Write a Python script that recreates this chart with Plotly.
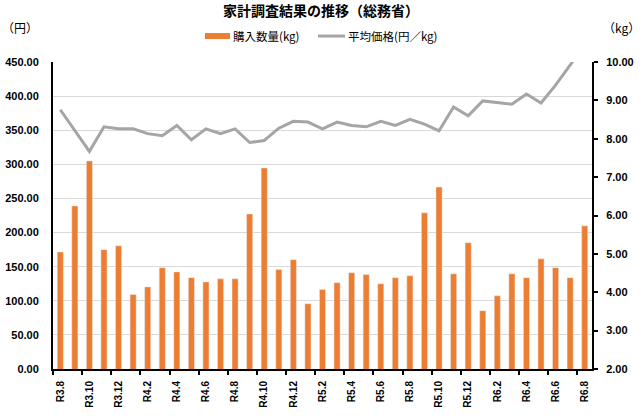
import plotly.graph_objects as go

months = ["R3.8", "R3.9", "R3.10", "R3.11", "R3.12",
          "R4.1", "R4.2", "R4.3", "R4.4", "R4.5", "R4.6", "R4.7", "R4.8", "R4.9", "R4.10", "R4.11", "R4.12",
          "R5.1", "R5.2", "R5.3", "R5.4", "R5.5", "R5.6", "R5.7", "R5.8", "R5.9", "R5.10", "R5.11", "R5.12",
          "R6.1", "R6.2", "R6.3", "R6.4", "R6.5", "R6.6", "R6.7", "R6.8"]

# 購入数量 (kg) - right axis
quantity = [5.05, 6.25, 7.42, 5.11, 5.21,
            3.94, 4.14, 4.64, 4.53, 4.38, 4.27, 4.35, 4.35, 6.04, 7.24, 4.59, 4.85,
            3.70, 4.07, 4.25, 4.51, 4.46, 4.22, 4.38, 4.43, 6.07, 6.74, 4.48, 5.29,
            3.52, 3.91, 4.48, 4.38, 4.87, 4.64, 4.38, 5.73]

# 平均価格 (円/kg) - left axis
price = [380, 350, 319, 355, 352,
         352, 345, 342, 357, 336, 352, 345, 352, 332, 335, 353, 363,
         362, 352, 362, 357, 355, 363, 357, 366, 359, 349, 384, 371,
         393, 390, 388, 403, 390, 416, 446, 475]

left_ticks = [0, 50, 100, 150, 200, 250, 300, 350, 400, 450]
right_ticks = [2, 3, 4, 5, 6, 7, 8, 9, 10]

BAR = "#ED7D31"
LINE = "#A5A5A5"
NUM_FONT = dict(family="Liberation Sans, Arial, sans-serif", size=11, color="#000000", weight="bold")
JP = "Noto Sans CJK JP"

pos = list(range(len(months)))

fig = go.Figure()
fig.add_trace(go.Bar(x=pos, y=quantity, yaxis="y2", marker_color=BAR, name="購入数量(kg)",
                     showlegend=False))
fig.add_trace(go.Scatter(x=pos, y=price, yaxis="y", mode="lines", line=dict(color=LINE, width=3),
                         name="平均価格(円／kg)", showlegend=False))

fig.update_layout(
    width=642, height=418,
    margin=dict(l=53, r=50, t=62, b=48.5),
    paper_bgcolor="white", plot_bgcolor="white",
    bargap=0.58,
    showlegend=False,
    xaxis=dict(
        range=[-0.5, len(months) - 0.5], automargin=False,
        tickmode="array", tickvals=pos[::2], ticktext=months[::2],
        tickangle=-90, ticks="", tickfont=dict(family="Liberation Sans, Arial, sans-serif", size=10,
                                               color="#000", weight="bold"),
        ticklabelstandoff=6,
        showline=True, linecolor="black", linewidth=2, showgrid=False, zeroline=False,
        minor=dict(tickmode="array", tickvals=[p - 0.5 for p in pos[::2]], ticks="outside",
                   ticklen=4, tickwidth=1.5, tickcolor="black", showgrid=False),
    ),
    yaxis=dict(
        range=[0, 450], tickmode="array", tickvals=left_ticks, automargin=False,
        tickformat=".2f", tickfont=NUM_FONT, ticks="",
        ticklabelstandoff=10,
        showline=True, linecolor="black", linewidth=2,
        showgrid=True, gridcolor="#D9D9D9", gridwidth=1, zeroline=False,
    ),
    yaxis2=dict(
        range=[2, 10], tickmode="array", tickvals=right_ticks, automargin=False,
        tickformat=".2f", tickfont=NUM_FONT, ticks="outside", ticklen=4, tickwidth=1.5, tickcolor="black",
        ticklabelstandoff=6,
        overlaying="y", side="right",
        showline=True, linecolor="black", linewidth=2,
        showgrid=False, zeroline=False,
    ),
    title=dict(text="家計調査結果の推移（総務省）", x=0.5, xanchor="center", xref="container",
               y=1 - 11.5 / 418, yanchor="middle", yref="container",
               font=dict(family=JP, size=14, color="#000", weight="bold")),
)

# axis unit labels
fig.add_annotation(text="（円）", xref="paper", yref="paper", x=-53 / 539, y=1 + 35 / 307.5,
                   xanchor="left", yanchor="middle", showarrow=False,
                   font=dict(family=JP, size=12, color="#000"))
fig.add_annotation(text="（kg）", xref="paper", yref="paper", x=1 + 50 / 539, y=1 + 35 / 307.5,
                   xanchor="right", yanchor="middle", showarrow=False,
                   font=dict(family=JP, size=12, color="#000"))

# manual legend
fig.add_shape(type="rect", xref="paper", yref="paper",
              x0=(205 - 53) / 539, x1=(230 - 53) / 539,
              y0=1 + (62 - 39) / 307.5, y1=1 + (62 - 33) / 307.5,
              fillcolor=BAR, line=dict(width=0))
fig.add_shape(type="line", xref="paper", yref="paper",
              x0=(318 - 53) / 539, x1=(345 - 53) / 539,
              y0=1 + (62 - 36) / 307.5, y1=1 + (62 - 36) / 307.5,
              line=dict(color=LINE, width=3))
fig.add_annotation(text="購入数量(kg)", xref="paper", yref="paper", x=(231 - 53) / 539,
                   y=1 + (62 - 36) / 307.5, xanchor="left", yanchor="middle", showarrow=False,
                   font=dict(family=JP, size=11.5, color="#000"))
fig.add_annotation(text="平均価格(円／kg)", xref="paper", yref="paper", x=(346 - 53) / 539,
                   y=1 + (62 - 36) / 307.5, xanchor="left", yanchor="middle", showarrow=False,
                   font=dict(family=JP, size=11.5, color="#000"))

fig.write_html("out.html")
